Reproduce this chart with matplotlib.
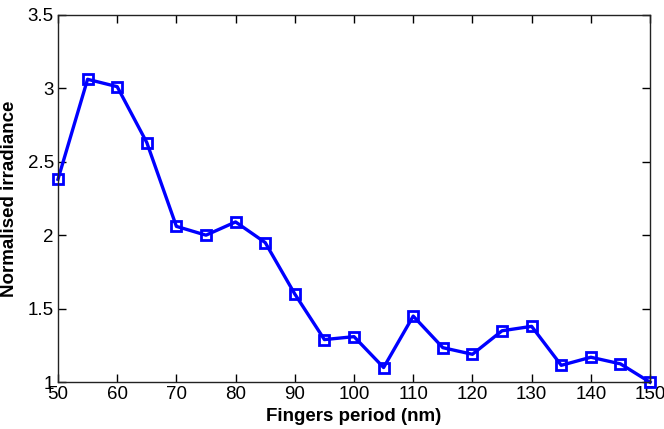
import numpy as np
import matplotlib

matplotlib.use("Agg")
import matplotlib.pyplot as plt

# Fingers period (nm) vs normalised irradiance
period = [50, 55, 60, 65, 70, 75, 80, 85, 90, 95, 100,
          105, 110, 115, 120, 125, 130, 135, 140, 145, 150]
irradiance = [2.38, 3.06, 3.01, 2.63, 2.06, 2.00, 2.09, 1.95, 1.60, 1.29, 1.31,
              1.10, 1.45, 1.235, 1.19, 1.35, 1.38, 1.115, 1.17, 1.125, 1.00]
xticks = [50, 60, 70, 80, 90, 100, 110, 120, 130, 140, 150]
yticks = [1, 1.5, 2, 2.5, 3, 3.5]
ytick_labels = ["1", "1.5", "2", "2.5", "3", "3.5"]

plt.rcParams["font.family"] = ["Liberation Sans", "DejaVu Sans"]

fig = plt.figure(figsize=(6.64, 4.29), dpi=100)
ax = fig.add_axes([0.0873, 0.109, 0.8917, 0.857])

ax.plot(period, irradiance, color="#0000ff", linewidth=2.4,
        marker="s", markersize=7.5, markerfacecolor="none",
        markeredgecolor="#0000ff", markeredgewidth=2, clip_on=False)

ax.set_xlim(50, 150)
ax.set_ylim(1, 3.5)
ax.set_xticks(xticks)
ax.set_yticks(yticks)
ax.set_yticklabels(ytick_labels)
ax.tick_params(direction="in", length=6, width=1, labelsize=13.5,
               top=True, right=True, pad=3)
for s in ax.spines.values():
    s.set_linewidth(1)
    s.set_color("#222222")

ax.set_xlabel("Fingers period (nm)", fontsize=13.5, fontweight="bold", labelpad=3)
ax.set_ylabel("Normalised irradiance", fontsize=13.5, fontweight="bold", labelpad=7)

fig.savefig("out.png", dpi=100)
